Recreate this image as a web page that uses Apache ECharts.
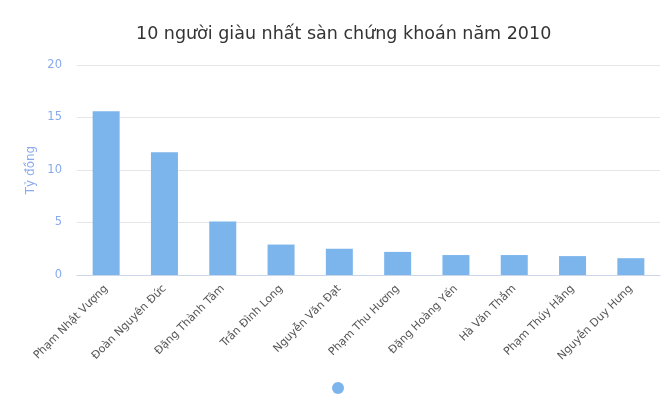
<!DOCTYPE html>
<html>
<head>
<meta charset="utf-8">
<script src="https://cdn.jsdelivr.net/npm/echarts@6/dist/echarts.min.js"></script>
<style>html,body{margin:0;padding:0;background:#fff}#c{width:667px;height:415px}</style>
</head>
<body>
<div id="c"></div>
<script>
var categories = ['Phạm Nhật Vượng','Đoàn Nguyên Đức','Đặng Thành Tâm','Trần Đình Long','Nguyễn Văn Đạt','Phạm Thu Hương','Đặng Hoàng Yến','Hà Văn Thắm','Phạm Thúy Hằng','Nguyễn Duy Hưng'];
var values = [15.6, 11.7, 5.1, 2.9, 2.5, 2.2, 1.9, 1.9, 1.8, 1.6];
var yTicks = [0, 5, 10, 15, 20];

var chart = echarts.init(document.getElementById('c'), null, {renderer:'canvas'});
chart.setOption({
  animation: false,
  title: {
    text: '10 người giàu nhất sàn chứng khoán năm 2010',
    left: 131, top: 20,
    textStyle: {fontFamily: 'DejaVu Sans', fontSize: 17.5, fontWeight: 'normal', color: '#333333'}
  },
  legend: {
    bottom: 16, left: 327,
    icon: 'circle', itemWidth: 12, itemHeight: 12,
    formatter: function(){ return ''; },
    data: ['Tỷ đồng']
  },
  grid: {left: 77, right: 7, top: 65, bottom: 140},
  xAxis: {
    type: 'category',
    data: categories,
    axisLine: {lineStyle: {color: '#ccd6eb'}},
    axisTick: {show: false},
    axisLabel: {rotate: 45, fontSize: 11, color: '#555', fontFamily: 'DejaVu Sans', margin: 12, interval: 0}
  },
  yAxis: {
    type: 'value',
    min: yTicks[0], max: yTicks[yTicks.length-1], interval: 5,
    name: 'Tỷ đồng', nameLocation: 'middle', nameGap: 37,
    nameTextStyle: {color: '#88aaee', fontSize: 12, fontFamily: 'DejaVu Sans'},
    axisLine: {show: false}, axisTick: {show: false},
    axisLabel: {color: '#88aaee', fontSize: 11.5, fontFamily: 'DejaVu Sans', margin: 15},
    splitLine: {lineStyle: {color: '#e6e6e6'}}
  },
  series: [{
    name: 'Tỷ đồng', type: 'bar', data: values,
    barWidth: 27,
    itemStyle: {color: '#7cb5ec'}
  }]
});
</script>
</body>
</html>
